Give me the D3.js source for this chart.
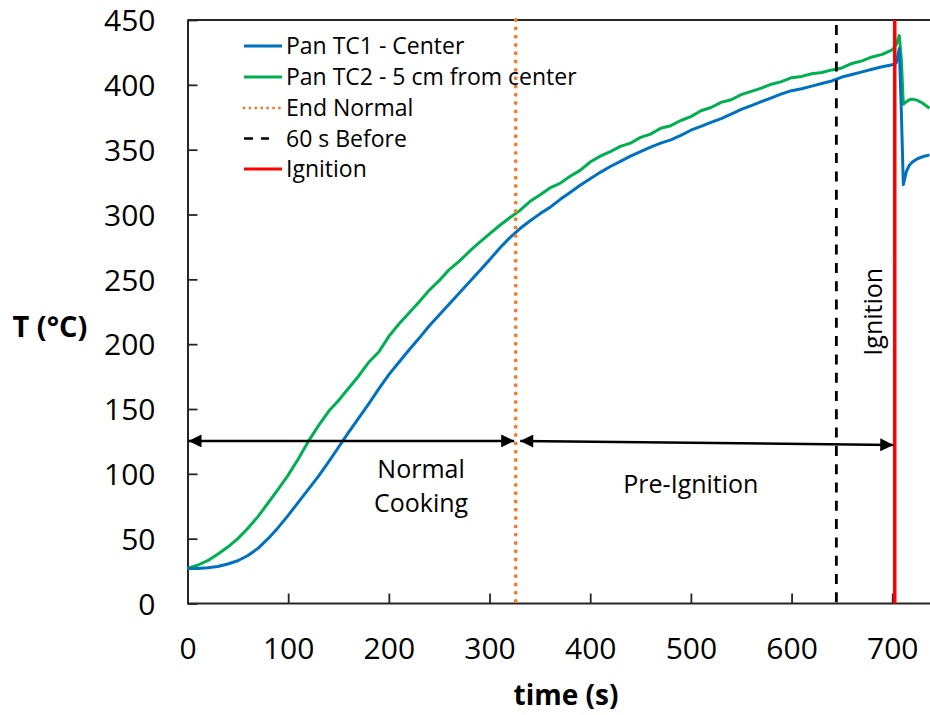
<!DOCTYPE html>
<html>
<head>
<meta charset="utf-8">
<script src="https://cdn.jsdelivr.net/npm/d3@7"></script>
<style>
  html, body { margin: 0; padding: 0; background: #fff; }
  svg { display: block; font-family: "Open Sans", "DejaVu Sans", sans-serif; }
</style>
</head>
<body>
<svg id="chart" width="930" height="715"></svg>
<script>
// ---- data ----
const times = [0,10,20,30,40,50,60,70,80,90,100,110,120,130,140,150,160,170,180,190,200,210,220,230,240,250,260,270,280,290,300,310,320,330,340,350,360,370,380,390,400,410,420,430,440,450,460,470,480,490,500,510,520,530,540,550,560,570,580,590,600,610,620,630,640,650,660,670,680,690,700,704,707,709,711,714,717,720,725,730,737];
const panTC1 = [27,27,27.5,28.5,30.5,33,37,42.5,50,58.5,68,78,88,98,109,120.5,132,143,154,165.5,176.5,186,195.5,204.5,214,222.5,231,239.5,248,256.5,265,274,282,289,295,300.5,305.5,311.5,317,322.5,327.5,332.5,337,341,345,348.5,352,355,357.5,361,365,368,371,374,377.5,381,384,387,390,393,395.5,397,399,401,403,406,408,410,412,414,415.5,417,428,380,323,333,338,340.5,343,344.5,346];
const panTC2 = [27,29.5,33,38,43.5,50,58,67,77.5,88,99,111.5,125,137,148,156.5,166,175.5,186,194,206,215.5,224,232.5,241.5,249,257.5,264,271.5,278.5,285,291.5,297.5,303,310,315,320.5,324,329.5,334,340.5,345,348.5,352.5,355,359.5,362,366.5,368.5,372.5,375.5,380,382.5,386.5,388.5,392.5,395,397.5,400.5,402.5,405.5,406.5,408.5,409.5,411.5,413,416.5,418.5,421.5,423.5,427,431,438,420,385,387,388.5,389,388,386,382];
const seriesNames = ["Pan TC1 - Center", "Pan TC2 - 5 cm from center"];
const markerNames = ["End Normal", "60 s Before", "Ignition"];
const markerTimes = [326, 644.5, 702.5];
const xTicks = [0,100,200,300,400,500,600,700];
const yTicks = [0,50,100,150,200,250,300,350,400,450];
const phaseLabels = [["Normal", "Cooking"], ["Pre-Ignition"]];
const phaseArrows = [[0, 125.4, 324.5, 125.4], [329.5, 125.4, 701, 122.3]];
const ignitionText = "Ignition";
const xTitle = "time (s)";
const yTitle = "T (°C)";

// ---- styles ----
const blue = "#0070C0", green = "#00B050", orange = "#ED7D31", red = "#FF0000";

const svg = d3.select("#chart");
const pL = 187.5, pR = 929.5, pT = 20, pB = 603.5;
const x = d3.scaleLinear().domain([0, 737]).range([pL, pR]);
const y = d3.scaleLinear().domain([0, 450]).range([pB, pT]);

// top border
svg.append("line").attr("x1", pL).attr("x2", 930).attr("y1", pT).attr("y2", pT)
  .attr("stroke", "#262626").attr("stroke-width", 2);

// axes
const xAxis = svg.append("g").attr("transform", `translate(0,${pB})`)
  .call(d3.axisBottom(x).tickValues(xTicks).tickSize(-10).tickPadding(34).tickSizeOuter(0));
const yAxis = svg.append("g").attr("transform", `translate(${pL},0)`)
  .call(d3.axisLeft(y).tickValues(yTicks).tickSize(-10).tickPadding(32).tickSizeOuter(0));
[xAxis, yAxis].forEach(g => {
  g.select(".domain").attr("stroke", "#262626").attr("stroke-width", 2);
  g.selectAll(".tick line").attr("stroke", "#262626").attr("stroke-width", 1.8);
  g.selectAll(".tick text").attr("fill", "#000").style("font-size", "30px")
    .style("font-family", "'Open Sans', sans-serif");
});
xAxis.select(".domain").attr("d", `M${pL},0H930`);
yAxis.selectAll(".tick text").attr("dy", "0.36em");
xAxis.selectAll(".tick text").attr("dy", "0.71em");

// axis titles
svg.append("text").attr("x", 566).attr("y", 705).attr("text-anchor", "middle")
  .style("font-size", "28px").style("font-weight", "bold").text(xTitle);
svg.append("text").attr("x", 50).attr("y", 337).attr("text-anchor", "middle")
  .style("font-size", "29px").style("font-weight", "bold").text(yTitle);

// series
const line = d3.line().x((d, i) => x(times[i])).y(d => y(d));
svg.append("path").datum(panTC2).attr("d", line).attr("fill", "none")
  .attr("stroke", green).attr("stroke-width", 3).attr("stroke-linejoin", "round");
svg.append("path").datum(panTC1).attr("d", line).attr("fill", "none")
  .attr("stroke", blue).attr("stroke-width", 3).attr("stroke-linejoin", "round");

// marker vertical lines
const markerStyles = [
  {stroke: orange, width: 3.8, dash: "0.1 8.2", cap: "round"},
  {stroke: "#000", width: 2.8, dash: "10 8.3", cap: "butt"},
  {stroke: red, width: 3.5, dash: null, cap: "butt"}
];
markerTimes.forEach((t, i) => {
  const s = markerStyles[i];
  svg.append("line").attr("x1", x(t)).attr("x2", x(t)).attr("y1", pT + (i === 1 ? 5 : 0)).attr("y2", pB)
    .attr("stroke", s.stroke).attr("stroke-width", s.width)
    .attr("stroke-dasharray", s.dash).attr("stroke-linecap", s.cap);
});

// arrows
const defs = svg.append("defs");
defs.append("marker").attr("id", "ah").attr("viewBox", "0 0 10 10").attr("refX", 10).attr("refY", 5)
  .attr("markerUnits", "userSpaceOnUse").attr("markerWidth", 15).attr("markerHeight", 13)
  .attr("orient", "auto-start-reverse")
  .append("path").attr("d", "M0,0L10,5L0,10Z").attr("fill", "#000");
phaseArrows.forEach(a => {
  svg.append("line").attr("x1", x(a[0]) + 1).attr("y1", y(a[1])).attr("x2", x(a[2])).attr("y2", y(a[3]))
    .attr("stroke", "#000").attr("stroke-width", 2.5)
    .attr("marker-start", "url(#ah)").attr("marker-end", "url(#ah)");
});

// phase labels
const phaseCenters = [232, 500];
phaseLabels.forEach((lines, i) => {
  const t = svg.append("text").attr("text-anchor", "middle").style("font-size", "25px").attr("fill", "#000");
  const cx = x(phaseCenters[i]);
  lines.forEach((l, j) => {
    t.append("tspan").attr("x", cx).attr("y", (i === 0 ? 478 : 493) + j * 34).text(l);
  });
});

// Ignition rotated label
svg.append("text").attr("transform", `translate(882,${y(225)}) rotate(-90)`)
  .attr("text-anchor", "middle").style("font-size", "25px").text(ignitionText);

// legend
const legendItems = [
  {name: seriesNames[0], stroke: blue, width: 3, dash: null, cap: "butt", x2: 282},
  {name: seriesNames[1], stroke: green, width: 3, dash: null, cap: "butt", x2: 282},
  {name: markerNames[0], stroke: orange, width: 2.8, dash: "0.1 5.8", cap: "round", x2: 281},
  {name: markerNames[1], stroke: "#000", width: 2.5, dash: "9 8", cap: "butt", x2: 269},
  {name: markerNames[2], stroke: red, width: 3, dash: null, cap: "butt", x2: 282}
];
const legendY = [46, 77, 108, 138.5, 169];
legendItems.forEach((d, i) => {
  const g = svg.append("g").attr("transform", `translate(0,${legendY[i]})`);
  g.append("line").attr("x1", 244).attr("x2", d.x2).attr("y1", 0).attr("y2", 0)
    .attr("stroke", d.stroke).attr("stroke-width", d.width)
    .attr("stroke-dasharray", d.dash).attr("stroke-linecap", d.cap);
  g.append("text").attr("x", 286).attr("y", 0).attr("dy", "0.35em")
    .style("font-size", "23px").attr("fill", "#000").text(d.name);
});
</script>
</body>
</html>
